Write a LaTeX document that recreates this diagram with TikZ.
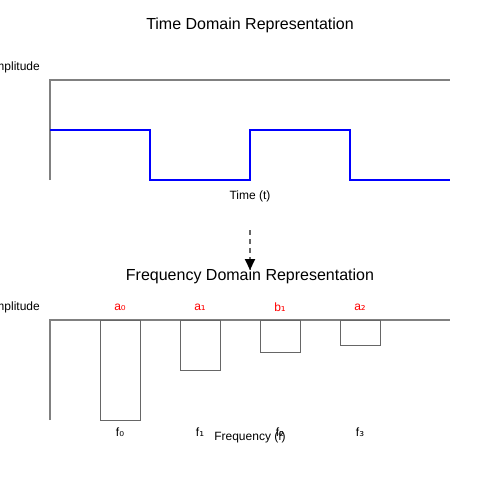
\documentclass[tikz,border=0pt]{standalone}
\usepackage{fontspec}
\setmainfont{Liberation Sans}
\newfontfamily\subfont{DejaVu Sans}
\usetikzlibrary{arrows.meta}
\begin{document}
\begin{tikzpicture}[x=1pt,y=-1pt,
  title/.style={font=\fontsize{16}{19}\selectfont, inner sep=0pt},
  lbl/.style={font=\fontsize{12}{14}\selectfont, inner sep=0pt},
  coef/.style={font=\fontsize{12}{14}\selectfont, inner sep=0pt, text=red},
  axisline/.style={draw=gray, line width=1.5pt},
  signal/.style={draw=blue, line width=2pt},
  bar/.style={draw=black!60, line width=1pt},
  flow/.style={draw=black!60, line width=2pt, dash pattern=on 5pt off 4pt, -{Triangle[length=11pt,width=10pt,fill=black,color=black]}}]
\useasboundingbox (0,0) rectangle (500,500);
\fill[white] (0,0) rectangle (500,500);
% time domain
\node[title] (t1) at (250,25) {Time Domain Representation};
\node[lbl, anchor=east] (amp1) at (40,67) {Amplitude};
\coordinate (o1) at (50,80);
\coordinate (ye1) at (50,180);
\coordinate (xe1) at (450,80);
\draw[axisline] (ye1) -- (o1) -- (xe1);
\draw[signal] (50,130) -- (150,130) -- (150,180) -- (250,180) -- (250,130) -- (350,130) -- (350,180) -- (450,180);
\node[lbl] (tl) at (250,196) {Time (t)};
% arrow
\coordinate (as) at (250,230);
\coordinate (ae) at (250,270);
\draw[flow] (as) -- (ae);
% frequency domain
\node[title] (t2) at (250,276) {Frequency Domain Representation};
\node[lbl, anchor=east] (amp2) at (40,307) {Amplitude};
\coordinate (o2) at (50,320);
\coordinate (ye2) at (50,420);
\coordinate (xe2) at (450,320);
\draw[axisline] (ye2) -- (o2) -- (xe2);
\draw[bar] (100,320) rectangle (140,420);
\draw[bar] (180,320) rectangle (220,370);
\draw[bar] (260,320) rectangle (300,352);
\draw[bar] (340,320) rectangle (380,345);
\node[coef] (c0) at (120,307) {a{\subfont ₀}};
\node[coef] (c1) at (200,307) {a{\subfont ₁}};
\node[coef] (c2) at (280,307) {b{\subfont ₁}};
\node[coef] (c3) at (360,307) {a{\subfont ₂}};
\node[lbl] (f0) at (120,432) {f{\subfont ₀}};
\node[lbl] (f1) at (200,432) {f{\subfont ₁}};
\node[lbl] (f2) at (280,432) {f{\subfont ₂}};
\node[lbl] (f3) at (360,432) {f{\subfont ₃}};
\node[lbl] (fl) at (250,437) {Frequency (f)};
\end{tikzpicture}
\end{document}
